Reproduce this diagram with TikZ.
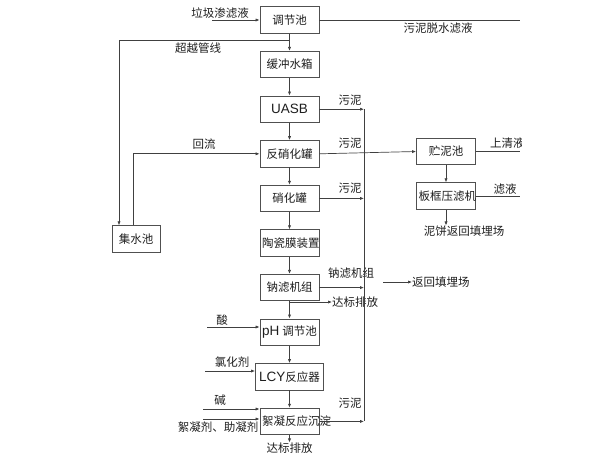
\documentclass[tikz,border=0pt]{standalone}
\usepackage{fontspec}
\setmainfont{Noto Sans CJK SC}
\newfontfamily\latinfont{Liberation Sans}
\usetikzlibrary{arrows.meta,positioning,calc}
\definecolor{lineGray}{HTML}{404040}
\definecolor{boxGray}{HTML}{505050}
\definecolor{textInk}{HTML}{1E1E1E}
\newcommand{\lattext}[1]{{\latinfont\fontsize{13.5pt}{14pt}\selectfont #1}}

\begin{document}
\begin{tikzpicture}[
    x=1pt, y=-1pt,
    node distance=17.3pt,
    font=\fontsize{11.5pt}{12pt}\selectfont, text=textInk,
    stepbox/.style={
      rectangle, draw=boxGray, line width=0.8pt,
      text width=55pt, inner xsep=2pt, inner ysep=0pt, align=center,
      minimum height=26.5pt
    },
    tag/.style={inner sep=0pt},
    flowarr/.style={-{Latex[length=4pt,width=3.2pt]}, draw=lineGray, line width=0.7pt},
    flowline/.style={draw=lineGray, line width=0.7pt}
  ]
    \useasboundingbox (0,0) rectangle (596,461);

    % main treatment chain
    \node[stepbox] (tjc) at (289.5,20) {调节池};
    \node[stepbox, below=of tjc] (hc) {缓冲水箱};
    \node[stepbox, below=of hc] (uasb) {\lattext{UASB}};
    \node[stepbox, below=of uasb] (fxh) {反硝化罐};
    \node[stepbox, below=of fxh] (xh) {硝化罐};
    \node[stepbox, below=of xh] (tcm) {陶瓷膜装置};
    \node[stepbox, below=of tcm] (nl) {钠滤机组};
    \node[stepbox, below=of nl] (ph) {\mbox{\lattext{pH}\kern3pt 调节池}};
    \node[stepbox, below=of ph, text width=64pt] (lcy) {\lattext{LCY}反应器};
    \node[stepbox, below=of lcy] (xn) {絮凝反应沉淀};

    % side units
    \node[stepbox, text width=44pt] (jsc) at (136,239) {集水池};
    \node[stepbox] (zn) at (446,151.5) {贮泥池};
    \node[stepbox] (bk) at (446,196) {板框压滤机};

    % texts on the lines
    \node[tag] (tIn) at (220,13) {垃圾渗滤液};
    \node[tag] (tBack) at (438,28) {污泥脱水滤液};
    \node[tag] (tByp) at (198,48) {超越管线};
    \node[tag] (tRef) at (204,144) {回流};
    \node[tag] (tS1) at (350,100) {污泥};
    \node[tag] (tS2) at (350,143) {污泥};
    \node[tag] (tS3) at (350,188) {污泥};
    \node[tag] (tS4) at (350,403) {污泥};
    \node[tag] (tNl) at (351,273) {钠滤机组};
    \node[tag, anchor=west] (tFill) at (412,282) {返回填埋场};
    \node[tag, anchor=west] (tOk1) at (332,302) {达标排放};
    \node[tag] (tFl) at (505,189) {滤液};
    \node[tag] (tCake) at (464,231) {泥饼返回填埋场};
    \node[tag] (tAcid) at (222,320) {酸};
    \node[tag] (tOx) at (232,362) {氯化剂};
    \node[tag] (tBase) at (220,400) {碱};
    \node[tag] (tFloc) at (218,427) {絮凝剂、助凝剂};
    \node[tag] (tOk2) at (289.5,448) {达标排放};
    \begin{scope}
      \clip (480,130) rectangle (521,160);
      \node[tag, anchor=west] (tTop) at (490,143) {上清液};
    \end{scope}

    % free line ends
    \coordinate (slx) at (364,0);
    \coordinate (inL) at (212,20);
    \coordinate (backR) at (520,20);
    \coordinate (bypL) at (119,40);
    \coordinate (bypC) at (289.5,40);
    \coordinate (refB) at (133,0);
    \coordinate (fillL) at (383,282);
    \coordinate (okC) at (289.5,302);
    \coordinate (acidL) at (207,327);
    \coordinate (oxL) at (205,371);
    \coordinate (baseL) at (203,409);
    \coordinate (flocL) at (203,419);
    \coordinate (edgeR) at (520,0);

    \draw[flowarr] (inL) -- (tjc.west);
    \draw[flowline] (tjc.east) -- (backR);
    \draw[flowarr] (tjc) -- (hc);
    \draw[flowarr] (hc) -- (uasb);
    \draw[flowarr] (uasb) -- (fxh);
    \draw[flowarr] (fxh) -- (xh);
    \draw[flowarr] (xh) -- (tcm);
    \draw[flowarr] (tcm) -- (nl);
    \draw[flowarr] (nl) -- (ph);
    \draw[flowarr] (ph) -- (lcy);
    \draw[flowarr] (lcy) -- (xn);
    \draw[flowarr] (xn) -- (tOk2);

    % bypass and reflux
    \draw[flowline] (bypC) -- (bypL);
    \draw[flowarr] (bypL) -- (bypL |- jsc.north);
    \draw[flowarr] (jsc.north -| refB) |- (fxh.west);

    % sludge
    \draw[flowline] (uasb.east -| slx) -- (xn.east -| slx);
    \draw[flowarr] (uasb.east) -- (uasb.east -| slx);
    \draw[flowarr] (fxh.east) -- (zn.west);
    \draw[flowarr] (xh.east) -- (xh.east -| slx);
    \draw[flowarr] (nl.east) -- (nl.east -| slx);
    \draw[flowarr] (xn.east) -- (xn.east -| slx);
    \draw[flowarr] (zn) -- (bk);
    \draw[flowline] (zn.east) -- (zn.east -| edgeR);
    \draw[flowline] (bk.east) -- (bk.east -| edgeR);
    \draw[flowarr] (bk.south) -- (bk.south |- tCake.north);

    \draw[flowarr] (fillL) -- (tFill.west);
    \draw[flowarr] (okC) -- (tOk1.west);

    % dosing
    \draw[flowarr] (acidL) -- (acidL -| ph.west);
    \draw[flowarr] (oxL) -- (oxL -| lcy.west);
    \draw[flowarr] (baseL) -- (baseL -| xn.west);
    \draw[flowarr] (flocL) -- (flocL -| xn.west);
\end{tikzpicture}
\end{document}
